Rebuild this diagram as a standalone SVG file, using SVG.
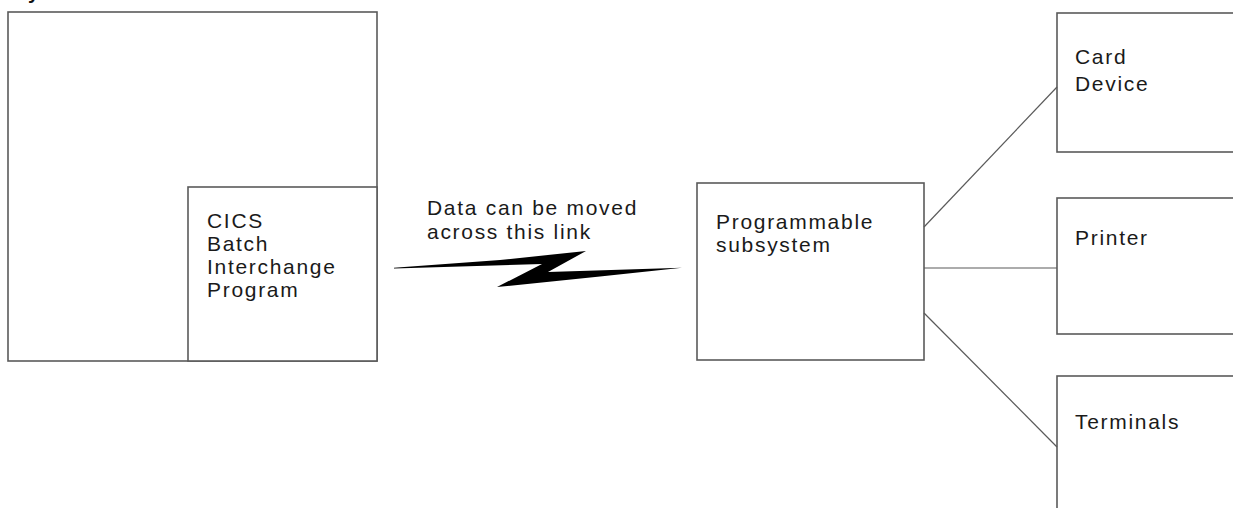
<svg xmlns="http://www.w3.org/2000/svg" width="1233" height="508" viewBox="0 0 1233 508">
  <style>
    .box { fill: #ffffff; stroke: #5a5a5a; stroke-width: 1.6; }
    .conn { fill: none; stroke: #5a5a5a; stroke-width: 1.2; }
    .lbl { font-family: "Liberation Sans", Arial, sans-serif; font-size: 21px; letter-spacing: 1.7px; fill: #1a1a1a; }
    .title { font-family: "Liberation Sans", Arial, sans-serif; font-size: 20px; font-weight: bold; fill: #111; }
  </style>
  <rect width="1233" height="508" fill="#ffffff"/>
  <text class="title" x="28" y="-1">y</text>

  <g id="host">
    <rect class="box" x="8" y="12" width="369" height="349"/>
  </g>
  <g id="cics-batch">
    <rect class="box" x="188" y="187" width="189" height="174"/>
    <text class="lbl" x="207" y="228">CICS</text>
    <text class="lbl" x="207" y="251">Batch</text>
    <text class="lbl" x="207" y="274">Interchange</text>
    <text class="lbl" x="207" y="297">Program</text>
  </g>

  <g id="link">
    <polygon points="394,267.7 500,260 586,251 548,272 682,267.8 600,276.5 497,287 542,264 394,268.6" fill="#000"/>
    <text class="lbl" x="427" y="215">Data can be moved</text>
    <text class="lbl" x="427" y="239">across this link</text>
  </g>

  <g id="subsystem">
    <rect class="box" x="697" y="183" width="227" height="177"/>
    <text class="lbl" x="716" y="229">Programmable</text>
    <text class="lbl" x="716" y="252">subsystem</text>
  </g>

  <g id="card-device">
    <rect class="box" x="1057" y="13" width="190" height="139"/>
    <text class="lbl" x="1075" y="64">Card</text>
    <text class="lbl" x="1075" y="91">Device</text>
  </g>
  <g id="printer">
    <rect class="box" x="1057" y="198" width="190" height="136"/>
    <text class="lbl" x="1075" y="245">Printer</text>
  </g>
  <g id="terminals">
    <rect class="box" x="1057" y="376" width="190" height="150"/>
    <text class="lbl" x="1075" y="429">Terminals</text>
  </g>

  <g id="connectors">
    <line class="conn" x1="924" y1="227" x2="1057" y2="87"/>
    <line class="conn" x1="924" y1="268" x2="1057" y2="268"/>
    <line class="conn" x1="924" y1="313" x2="1057" y2="447"/>
  </g>
</svg>
